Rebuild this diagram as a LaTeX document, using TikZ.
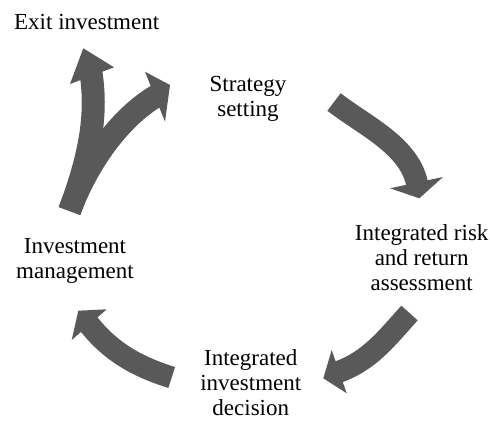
\documentclass[tikz,border=0pt]{standalone}
\usepackage{fontspec}
\setmainfont{Liberation Serif}

\definecolor{cyclegray}{HTML}{595959}

\tikzset{
  stage/.style={align=center, inner sep=0pt, anchor=base,
    font=\fontsize{23}{25}\selectfont},
  shaft/.style={draw=cyclegray, line width=22pt},
  head/.style={fill=cyclegray},
}

\begin{document}
\begin{tikzpicture}[x=1pt,y=-1pt]
  \useasboundingbox (0,0) rectangle (490,421);

  % stages round the cycle (base = last line)
  \node[stage] (exit)     at (86.7,29.3)  {Exit investment};
  \node[stage] (strategy) at (248,116.7)  {Strategy\\setting};
  \node[stage] (risk)     at (421.7,290)  {Integrated risk\\and return\\assessment};
  \node[stage] (decision) at (250.8,415)  {Integrated\\investment\\decision};
  \node[stage] (manage)   at (75,278)     {Investment\\management};

  % strategy -> risk
  \coordinate (s1) at (334,102);
  \coordinate (e1) at (417.5,186);
  \draw[shaft] (s1) .. controls (365.6,126.4) and (411,146.4) .. (e1);
  \fill[head] (443,177) -- (419.3,198.3) -- (390,188.3) -- cycle;

  % risk -> decision
  \coordinate (s2) at (409.5,313);
  \coordinate (e2) at (336.4,372.7);
  \draw[shaft] (s2) .. controls (386,339) and (369.6,361.1) .. (e2);
  \fill[head] (331.7,350) -- (323.3,378.3) -- (346.7,393.3) -- cycle;

  % decision -> management
  \coordinate (s3) at (171.7,377.5);
  \coordinate (e3) at (87.4,322.3);
  \draw[shaft] (s3) .. controls (136.4,366.4) and (110,351.5) .. (e3);
  \fill[head] (106.7,309.3) -- (78.3,310.7) -- (71.7,340) -- cycle;

  % split arrow: out to exit, or back to strategy
  \coordinate (fork) at (69.5,211);
  \coordinate (e4) at (91,72.9);
  \coordinate (e5) at (157.6,95.2);
  \draw[shaft, line width=23pt] (fork) .. controls (88.8,159.3) and (97.8,117.5) .. (e4);
  \fill[head] (70,84) -- (83.3,48.3) -- (114,67.3) -- cycle;
  \draw[shaft, line width=23pt] (fork) .. controls (87,164) and (118.9,117.7) .. (e5);
  \fill[head] (145,71.7) -- (170,85) -- (165,121.7) -- cycle;
\end{tikzpicture}
\end{document}
